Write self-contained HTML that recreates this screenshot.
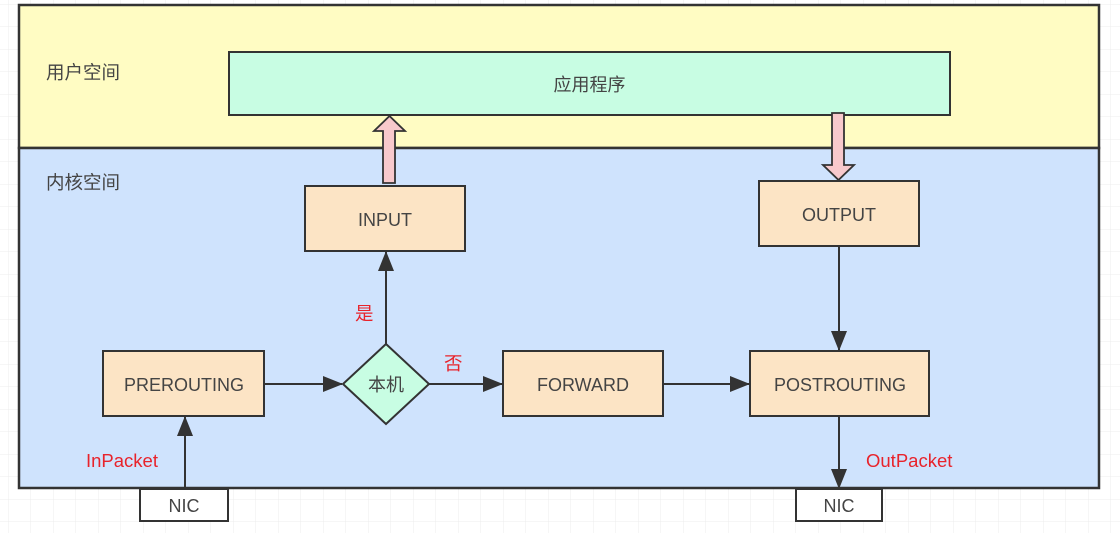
<!DOCTYPE html>
<html><head><meta charset="utf-8"><style>
html,body{margin:0;padding:0;background:#fff;}
svg{display:block;}
text{font-family:"Liberation Sans","Noto Sans CJK SC",sans-serif;}
</style></head><body>
<svg width="1120" height="540" viewBox="0 0 1120 540" xmlns="http://www.w3.org/2000/svg">
<defs>
<pattern id="g" x="8" y="4" width="22.5" height="22.5" patternUnits="userSpaceOnUse">
<path d="M0 0H22.5M0 0V22.5" stroke="#ececec" stroke-width="1" fill="none"/>
</pattern>
<marker id="a" markerWidth="20" markerHeight="16" refX="19" refY="8" orient="auto" markerUnits="userSpaceOnUse"><path d="M0,0 L20,8 L0,16 Z" fill="#333"/></marker>
</defs>
<rect width="1120" height="533" fill="url(#g)"/>
<rect x="19" y="5" width="1080" height="143" fill="#fffcc3" stroke="#333" stroke-width="2.5"/>
<rect x="19" y="148" width="1080" height="340" fill="#cfe3fd" stroke="#333" stroke-width="2.5"/>
<text x="46" y="79" font-size="18.5" fill="#444">用户空间</text>
<text x="46" y="189" font-size="18.5" fill="#444">内核空间</text>
<rect x="229" y="52" width="721" height="63" fill="#c8fde3" stroke="#333" stroke-width="2"/>
<text x="589.5" y="91" font-size="18" fill="#444" text-anchor="middle">应用程序</text>
<!-- pink arrows -->
<path d="M383,183 V131 H374 L389.5,116 L405,131 H395 V183 Z" fill="#f8c9cc" stroke="#333" stroke-width="1.8"/>
<path d="M832,113 V165 H823 L838.5,180 L854,165 H844 V113 Z" fill="#f8c9cc" stroke="#333" stroke-width="1.8"/>
<!-- boxes -->
<g stroke="#333" stroke-width="2" fill="#fce4c5">
<rect x="305" y="186" width="160" height="65"/>
<rect x="759" y="181" width="160" height="65"/>
<rect x="103" y="351" width="161" height="65"/>
<rect x="503" y="351" width="160" height="65"/>
<rect x="750" y="351" width="179" height="65"/>
</g>
<path d="M386,344 L429,384 L386,424 L343,384 Z" fill="#c8fde3" stroke="#333" stroke-width="2"/>
<g font-size="18" fill="#444" text-anchor="middle">
<text x="385" y="226">INPUT</text>
<text x="839" y="221">OUTPUT</text>
<text x="184" y="391">PREROUTING</text>
<text x="583" y="391">FORWARD</text>
<text x="840" y="391">POSTROUTING</text>
<text x="386" y="391">本机</text>
</g>
<!-- connectors -->
<g stroke="#333" stroke-width="2" fill="none" marker-end="url(#a)">
<line x1="386" y1="344" x2="386" y2="252"/>
<line x1="264" y1="384" x2="342" y2="384"/>
<line x1="429" y1="384" x2="502" y2="384"/>
<line x1="663" y1="384" x2="749" y2="384"/>
<line x1="839" y1="246" x2="839" y2="350"/>
<line x1="839" y1="416" x2="839" y2="488"/>
<line x1="185" y1="488" x2="185" y2="417"/>
</g>
<g font-size="18.5" fill="#e8232b">
<text x="355" y="320">是</text>
<text x="444" y="370">否</text>
<text x="86" y="467">InPacket</text>
<text x="866" y="467">OutPacket</text>
</g>
<rect x="140" y="489" width="88" height="32" fill="#fff" stroke="#333" stroke-width="2"/>
<rect x="796" y="489" width="86" height="32" fill="#fff" stroke="#333" stroke-width="2"/>
<g font-size="18" fill="#444" text-anchor="middle">
<text x="184" y="512">NIC</text>
<text x="839" y="512">NIC</text>
</g>
</svg>
</body></html>
